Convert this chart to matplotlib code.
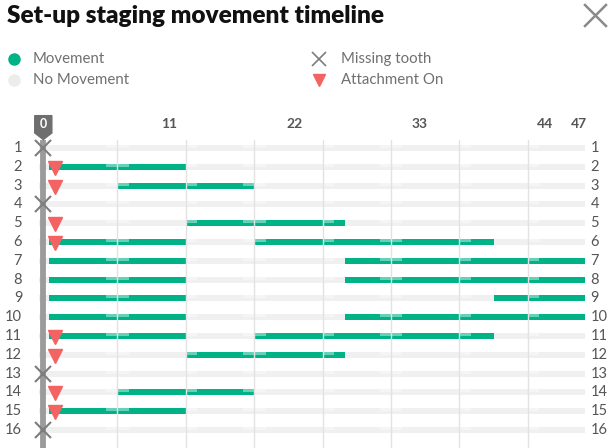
import matplotlib.pyplot as plt
from matplotlib.patches import Polygon

# teeth rows 1..16, stages 0..47
rows = list(range(1, 17))
missing = [1, 4, 13, 16]
attachment = [2, 3, 5, 6, 11, 12, 14, 15]
# movement ranges (first stage, last stage) per row
movement = {
    2: [(1, 12)],
    3: [(7, 18)],
    5: [(13, 26)],
    6: [(1, 12), (19, 39)],
    7: [(1, 12), (27, 47)],
    8: [(1, 12), (27, 47)],
    9: [(1, 12), (40, 47)],
    10: [(1, 12), (27, 47)],
    11: [(1, 12), (19, 39)],
    12: [(13, 26)],
    14: [(7, 18)],
    15: [(1, 12)],
}
n_stages = 47
tick_stages = [11, 22, 33, 44, 47]
grid_stages = [6, 12, 18, 24, 30, 36, 42]
seam_stages = [6, 7, 13, 18, 19, 25, 30, 31, 37, 43]

GREEN = '#00b386'
TRACK = '#f0f0f0'
RED = '#f46363'
GREYX = '#7d7d7d'

plt.rcParams['font.family'] = ['Lato', 'DejaVu Sans']

W, H = 615, 448
fig = plt.figure(figsize=(W / 100, H / 100), dpi=100)

# overlay in pixel units for title / legend / close icon
lay = fig.add_axes([0, 0, 1, 1])
lay.set_xlim(0, W)
lay.set_ylim(H, 0)
lay.axis('off')

lay.text(7, 16, 'Set-up staging movement timeline', fontsize=17.6,
         fontweight='heavy', color='#111111', va='center', ha='left')
lay.plot([585, 606], [5, 26], color='#8a8a8a', lw=1.8)
lay.plot([585, 606], [26, 5], color='#8a8a8a', lw=1.8)

lay.plot(14, 59, 'o', color=GREEN, ms=8)
lay.text(33, 59, 'Movement', fontsize=10.8, color='#707070', va='center')
lay.plot(14, 80, 'o', color='#ececec', ms=8)
lay.text(33, 80, 'No Movement', fontsize=10.8, color='#707070', va='center')
lay.plot(319, 59, 'x', color=GREYX, ms=10, mew=1.2)
lay.text(341, 59, 'Missing tooth', fontsize=10.8, color='#707070', va='center')
lay.plot(319, 80, 'v', color=RED, ms=9)
lay.text(341, 80, 'Attachment On', fontsize=10.8, color='#707070', va='center')

# chart axes: stage s centre at px 43.3 + 11.4*s, row r at px 148 + 18.8*(r-1)
x0, xs = 43.3, 11.4
y0, ys = 148, 18.8
xl = (-1, n_stages + 0.5)
yl = (16 + (H - 430) / ys, 1 - (148 - 140) / ys)
left = x0 + xs * xl[0]
right = x0 + xs * xl[1]
top = y0 + ys * (yl[1] - 1)
ax = fig.add_axes([left / W, 0, (right - left) / W, (H - top) / H])
ax.set_xlim(*xl)
ax.set_ylim(*yl)
ax.axis('off')

bh = 0.32
for r in rows:
    ax.barh(r, n_stages + 0.9, left=-0.4, height=bh, color=TRACK, zorder=1)
    for a, b in movement.get(r, []):
        ax.barh(r, b - a + 1, left=a - 0.5, height=bh, color=GREEN, zorder=2)
    for s in seam_stages:
        ax.barh(r - bh / 4, 1, left=s - 0.5, height=bh / 2, color='white',
                alpha=0.4, zorder=3, lw=0)

for g in grid_stages:
    ax.axvline(g + 0.5, color='#e2e2e2', lw=1, zorder=4)

ax.plot([0, 0], [yl[1], yl[0]], color='#9b9b9b', lw=4.2, zorder=5,
        solid_capstyle='butt')
ax.plot([0] * len(missing), missing, 'x', color=GREYX, ms=12, mew=1.5,
        zorder=6, clip_on=False)
ax.plot([1] * len(attachment), [r + 0.05 for r in attachment], 'v',
        color=RED, ms=10, zorder=7)

# top stage labels
for t in tick_stages:
    ax.text(t, -0.25, str(t), ha='center', va='center', fontsize=10,
            fontweight='bold', color='#555555', clip_on=False)
marker = Polygon([(-0.75, -0.72), (0.75, -0.72), (0.75, 0.2), (0, 0.55),
                  (-0.75, 0.2)], closed=True, color='#6e6e6e', clip_on=False,
                 zorder=8)
ax.add_patch(marker)
ax.text(0, -0.25, '0', ha='center', va='center', fontsize=9,
        fontweight='bold', color='white', clip_on=False, zorder=9)

# row labels both sides
for r in rows:
    ax.text(-1.85, r, str(r), ha='right', va='center', fontsize=10.5,
            color='#555555', clip_on=False)
    ax.text(48.0, r, str(r), ha='left', va='center', fontsize=10.5,
            color='#555555', clip_on=False)

fig.savefig('out.png', dpi=100)
